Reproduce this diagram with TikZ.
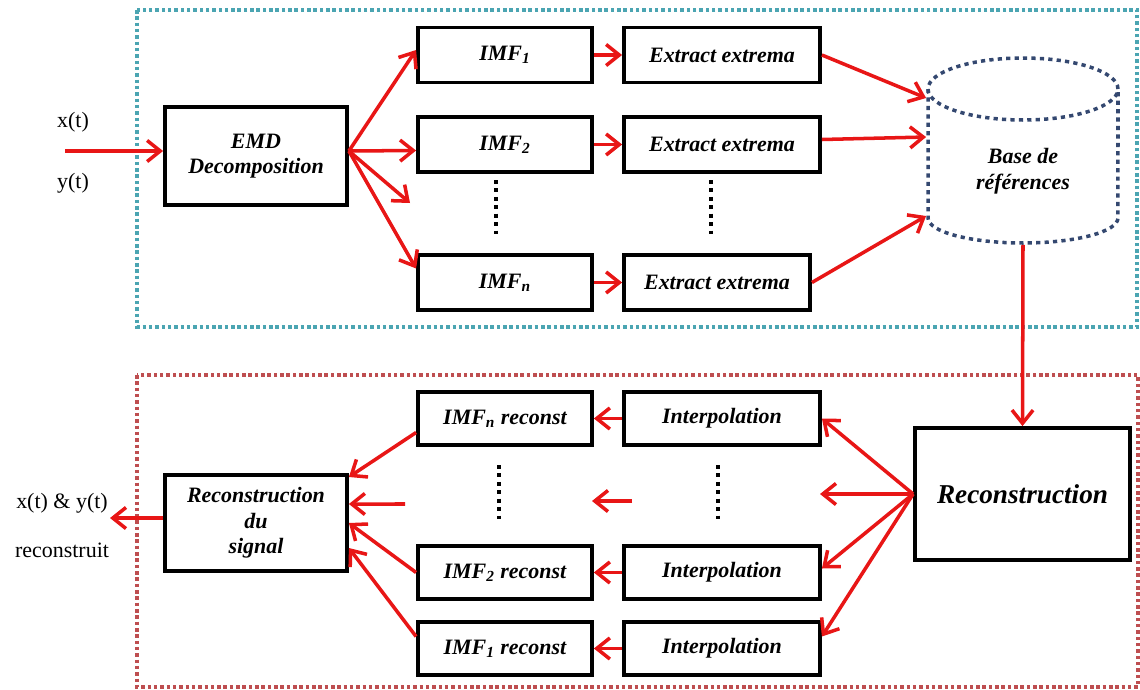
\documentclass[tikz,border=0pt]{standalone}
\usepackage{fontspec}
\setmainfont{Liberation Serif}
\usetikzlibrary{arrows.meta}
\definecolor{arrred}{RGB}{232,22,22}
\definecolor{topframe}{RGB}{75,165,178}
\definecolor{botframe}{RGB}{190,78,80}
\definecolor{cylblue}{RGB}{52,72,112}

\begin{document}
\begin{tikzpicture}[x=0.02cm,y=-0.02cm,
  box/.style={draw=black,line width=2.2pt,rectangle,inner sep=1pt,fill=white,align=center,
    font=\fontsize{12.5}{14.5}\selectfont\bfseries\itshape},
  imfbox/.style={box,minimum width=3.48cm,minimum height=1.1cm},
  extbox/.style={box,minimum width=3.92cm,minimum height=1.1cm},
  label/.style={inner sep=0pt,font=\fontsize{12.5}{14.5}\selectfont},
  arr/.style={draw=arrred,line width=2pt,-{Straight Barb[length=7.5pt,width=12pt]}},
  vdots/.style={draw=black,line width=2.2pt,dash pattern=on 2.2pt off 2.6pt},
  frame/.style={line width=2pt,dash pattern=on 2pt off 1.6pt},
  cyl/.style={draw=cylblue,line width=2pt,dash pattern=on 2.4pt off 2.4pt}]
            \useasboundingbox (0,0) rectangle (1140,690);

            \draw[frame,topframe] (137,10) rectangle (1137,327);
            \draw[frame,botframe] (137,375) rectangle (1138,687);

            \node[label] (x) at (73,122) {x(t)};
            \node[label] (y) at (73,183) {y(t)};
            \coordinate (in) at (65,151);
            \node[box,minimum width=3.64cm,minimum height=1.96cm] (emd) at (256,156) {EMD\\Decomposition};

            \node[imfbox] (imf1) at (505,55) {IMF\textsubscript{1}};
            \node[imfbox] (imf2) at (505,144.5) {IMF\textsubscript{2}};
            \node[imfbox] (imfn) at (505,282.5) {IMF\textsubscript{n}};
            \coordinate (free1) at (410,203);

            \node[extbox] (ext1) at (722,55) {Extract extrema};
            \node[extbox] (ext2) at (722,144.5) {Extract extrema};
            \node[extbox,minimum width=3.72cm] (extn) at (717,282.5) {Extract extrema};

            \draw[vdots] (496,180) -- (496,237);
            \draw[vdots] (711,180) -- (711,237);

            \node[box,draw=none,fill=none,minimum width=3.8cm,minimum height=2.88cm] (base) at (1023,171) {Base de\\références};
            \draw[cyl] (1023,89) ellipse [x radius=1.9cm,y radius=0.62cm];
            \draw[cyl] (928,89) -- (928,218) arc [start angle=180,end angle=360,x radius=1.9cm,y radius=0.5cm] -- (1118,89);

            \node[box,minimum width=4.3cm,minimum height=2.64cm,font=\fontsize{15.5}{18}\selectfont\bfseries\itshape] (recon) at (1022.5,494) {Reconstruction};

            \node[extbox,minimum height=1.06cm] (interpn) at (722,418.5) {Interpolation};
            \node[extbox,minimum height=1.06cm] (interp2) at (722,572.5) {Interpolation};
            \node[extbox,minimum height=1.06cm] (interp1) at (722,648.5) {Interpolation};
            \coordinate (free2) at (820,494);

            \node[imfbox,minimum height=1.06cm] (recn) at (505,418.5) {IMF\textsubscript{n} reconst};
            \node[imfbox,minimum height=1.06cm] (rec2) at (505,572.5) {IMF\textsubscript{2} reconst};
            \node[imfbox,minimum height=1.06cm] (rec1) at (505,648.5) {IMF\textsubscript{1} reconst};
            \coordinate (free3) at (632,501);
            \coordinate (free4) at (592,501);
            \coordinate (free5) at (405,504);

            \draw[vdots] (499,465) -- (499,522);
            \draw[vdots] (718,465) -- (718,522);

            \node[box,minimum width=3.64cm,minimum height=1.92cm] (signal) at (256,523) {Reconstruction\\du\\signal};
            \coordinate (out) at (110,518);
            \node[label] (xy) at (62,503) {x(t) \& y(t)};
            \node[label] (rs) at (62,550) {reconstruit};

            \draw[arr] (in) -- (emd.west |- in);
            \draw[arr] ([yshift=0.1cm]emd.east) -- ([yshift=0.1cm]imf1.west);
            \draw[arr] ([yshift=0.1cm]emd.east) -- ([yshift=-0.12cm]imf2.west);
            \draw[arr] ([yshift=0.1cm]emd.east) -- (free1);
            \draw[arr] ([yshift=0.1cm]emd.east) -- ([yshift=0.28cm]imfn.west);

            \draw[arr] (imf1) -- (ext1);
            \draw[arr] (imf2) -- (ext2);
            \draw[arr] (imfn) -- (extn);

            \draw[arr] (ext1.east) -- ([yshift=1.46cm]base.west);
            \draw[arr] ([yshift=0.1cm]ext2.east) -- ([yshift=0.68cm]base.west);
            \draw[arr] (extn.east) -- ([yshift=-0.9cm]base.west);

            \draw[arr] (base.south) -- (recon.north);

            \draw[arr] (recon.west) -- (interpn.east);
            \draw[arr] (recon.west) -- (free2);
            \draw[arr] (recon.west) -- ([yshift=0.08cm]interp2.east);
            \draw[arr] (recon.west) -- ([yshift=0.24cm]interp1.east);

            \draw[arr] (interpn) -- (recn);
            \draw[arr] (free3) -- (free4);
            \draw[arr] (interp2) -- (rec2);
            \draw[arr] (interp1) -- (rec1);

            \draw[arr] ([yshift=-0.28cm]recn.west) -- ([yshift=0.92cm]signal.east);
            \draw[arr] (free5) -- ([yshift=0.38cm]signal.east);
            \draw[arr] (rec2.west) -- (signal.east);
            \draw[arr] ([yshift=0.24cm]rec1.west) -- ([yshift=-0.5cm]signal.east);
            \draw[arr] (signal.west |- out) -- (out);
        \end{tikzpicture}
\end{document}
